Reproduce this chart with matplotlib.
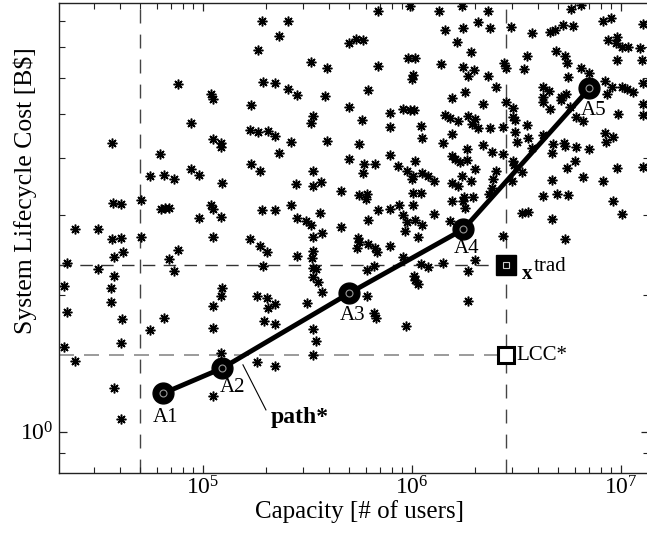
import matplotlib
matplotlib.use("Agg")
import matplotlib.pyplot as plt
import numpy as np
from matplotlib.ticker import NullFormatter, LogLocator

#* Design points (log10 of capacity, log10 of lifecycle cost)
log_capacity = [
    4.882, 4.941, 4.563, 4.796, 4.748, 4.815, 4.863, 4.941, 4.981, 4.571, 4.606, 4.703, 4.799, 4.818, 4.837,
    4.981, 4.388, 4.496, 4.563, 4.608, 4.703, 5.282, 5.407, 5.362, 5.262, 5.697, 5.518, 5.593, 5.287, 5.343,
    5.407, 5.448, 5.582, 5.038, 5.049, 5.231, 5.697, 5.528, 5.517, 5.225, 5.262, 5.312, 5.343, 5.420, 5.593,
    5.046, 5.085, 5.087, 5.362, 5.697, 5.231, 5.273, 5.528, 5.089, 5.446, 5.528, 5.563, 5.660, 5.038, 5.049,
    5.284, 5.343, 5.420, 5.451, 5.494, 5.515, 5.561, 5.085, 5.662, 5.049, 5.225, 5.528, 5.569, 5.839, 5.992,
    6.131, 6.238, 6.365, 6.158, 6.246, 6.317, 6.375, 5.732, 5.766, 6.217, 6.281, 5.839, 5.982, 6.014, 6.006,
    5.999, 6.137, 6.246, 6.297, 6.269, 6.365, 5.791, 6.254, 6.190, 6.341, 5.895, 5.958, 5.990, 6.010, 5.762,
    6.158, 6.182, 6.222, 6.269, 6.302, 6.286, 6.317, 6.375, 5.895, 6.043, 6.046, 6.193, 6.147, 5.746, 6.338,
    6.262, 6.381, 5.770, 5.822, 5.767, 5.895, 6.014, 5.934, 5.975, 6.006, 5.999, 6.046, 6.078, 6.107, 6.190,
    6.206, 6.230, 6.262, 6.302, 6.238, 6.190, 6.222, 6.282, 5.746, 5.783, 5.779, 6.006, 6.043, 6.249, 6.293,
    6.381, 6.369, 5.839, 5.895, 5.938, 6.006, 6.190, 6.246, 6.254, 5.791, 5.958, 5.975, 6.014, 6.046, 6.107,
    6.182, 5.967, 6.030, 5.743, 6.807, 6.759, 6.475, 6.576, 6.660, 6.684, 6.724, 6.769, 6.915, 6.954, 7.107,
    6.939, 6.980, 6.976, 7.003, 7.034, 7.091, 6.980, 7.099, 6.549, 6.689, 6.732, 6.743, 6.440, 6.450, 6.537,
    6.807, 6.846, 6.746, 6.402, 6.628, 6.657, 6.925, 6.956, 7.003, 7.027, 7.056, 7.107, 6.932, 6.628, 6.628,
    6.713, 6.737, 6.712, 6.756, 6.660, 6.450, 6.485, 6.485, 6.493, 7.107, 7.107, 6.987, 6.785, 6.820, 6.437,
    6.549, 6.493, 6.628, 6.557, 6.504, 6.573, 6.676, 6.727, 6.732, 6.670, 6.785, 6.848, 6.924, 6.928, 6.963,
    6.437, 6.485, 6.488, 6.402, 6.525, 6.780, 6.743, 6.980, 7.107, 6.389, 6.477, 6.670, 6.820, 6.915, 6.626,
    6.692, 6.745, 6.963, 7.003, 6.525, 6.557, 6.670, 6.437, 6.732, 4.576, 4.616, 4.882, 4.837, 4.863, 4.349,
    4.496, 4.574, 4.335, 4.560, 4.560, 4.349, 4.614, 4.812, 4.748, 4.608, 4.335, 4.388, 4.573, 4.608, 5.273,
    5.308, 5.289, 5.451, 5.528, 5.520, 5.528, 5.541, 5.525, 5.552, 5.569, 5.496, 5.089, 5.085, 5.049, 5.046,
    5.260, 5.308, 5.345, 5.312, 5.293, 5.343, 5.525, 5.541, 5.528, 5.085, 5.260, 5.345, 5.046, 5.746, 5.735,
    5.788, 5.823, 5.831, 5.895, 5.958, 5.820, 5.783, 6.043, 6.078, 6.150, 6.011, 6.014, 6.030, 6.267, 6.302,
    6.267, 5.783, 5.820, 5.826, 5.971,
]
log_cost = [
    0.764, 0.678, 0.634, 0.610, 0.562, 0.564, 0.555, 0.577, 0.564, 0.503, 0.500, 0.509, 0.490, 0.491, 0.491,
    0.470, 0.445, 0.446, 0.423, 0.426, 0.427, 0.903, 0.903, 0.870, 0.840, 0.854, 0.813, 0.800, 0.769, 0.767,
    0.753, 0.739, 0.738, 0.742, 0.731, 0.717, 0.714, 0.694, 0.678, 0.663, 0.659, 0.662, 0.651, 0.636, 0.638,
    0.644, 0.634, 0.625, 0.613, 0.600, 0.589, 0.573, 0.574, 0.547, 0.545, 0.540, 0.549, 0.528, 0.498, 0.490,
    0.487, 0.488, 0.498, 0.469, 0.464, 0.454, 0.481, 0.471, 0.449, 0.427, 0.423, 0.427, 0.436, 0.925, 0.936,
    0.925, 0.936, 0.925, 0.884, 0.887, 0.900, 0.887, 0.863, 0.861, 0.857, 0.835, 0.803, 0.821, 0.821, 0.784,
    0.775, 0.808, 0.802, 0.795, 0.782, 0.782, 0.750, 0.747, 0.734, 0.720, 0.701, 0.710, 0.706, 0.707, 0.686,
    0.696, 0.689, 0.684, 0.694, 0.687, 0.676, 0.667, 0.667, 0.670, 0.673, 0.645, 0.654, 0.635, 0.632, 0.630,
    0.622, 0.614, 0.588, 0.588, 0.569, 0.608, 0.594, 0.585, 0.573, 0.563, 0.555, 0.569, 0.563, 0.551, 0.607,
    0.600, 0.593, 0.597, 0.577, 0.563, 0.547, 0.539, 0.550, 0.520, 0.522, 0.512, 0.524, 0.525, 0.515, 0.515,
    0.536, 0.522, 0.487, 0.489, 0.498, 0.498, 0.506, 0.506, 0.491, 0.465, 0.477, 0.462, 0.465, 0.454, 0.478,
    0.464, 0.441, 0.429, 0.425, 0.938, 0.928, 0.889, 0.876, 0.878, 0.883, 0.894, 0.892, 0.903, 0.909, 0.896,
    0.862, 0.868, 0.854, 0.846, 0.845, 0.843, 0.818, 0.817, 0.826, 0.837, 0.826, 0.811, 0.810, 0.799, 0.797,
    0.800, 0.789, 0.779, 0.758, 0.757, 0.749, 0.771, 0.757, 0.757, 0.753, 0.747, 0.767, 0.742, 0.736, 0.725,
    0.735, 0.742, 0.728, 0.714, 0.709, 0.725, 0.711, 0.691, 0.685, 0.720, 0.696, 0.698, 0.692, 0.684, 0.670,
    0.674, 0.659, 0.652, 0.645, 0.637, 0.624, 0.632, 0.635, 0.628, 0.613, 0.626, 0.621, 0.657, 0.637, 0.648,
    0.610, 0.596, 0.586, 0.574, 0.571, 0.595, 0.580, 0.580, 0.581, 0.555, 0.550, 0.553, 0.559, 0.550, 0.518,
    0.522, 0.520, 0.506, 0.478, 0.480, 0.482, 0.467, 0.431, 0.423, 0.385, 0.394, 0.399, 0.380, 0.353, 0.370,
    0.358, 0.343, 0.321, 0.315, 0.286, 0.264, 0.248, 0.249, 0.224, 0.196, 0.187, 0.155, 0.097, 0.028, 0.408,
    0.394, 0.365, 0.387, 0.397, 0.381, 0.359, 0.358, 0.341, 0.330, 0.306, 0.284, 0.316, 0.299, 0.277, 0.229,
    0.299, 0.293, 0.280, 0.273, 0.243, 0.236, 0.226, 0.199, 0.169, 0.174, 0.154, 0.144, 0.079, 0.416, 0.403,
    0.412, 0.403, 0.394, 0.409, 0.385, 0.365, 0.355, 0.368, 0.363, 0.370, 0.343, 0.333, 0.324, 0.353, 0.377,
    0.288, 0.299, 0.260, 0.251, 0.233,
]

#* Staged deployment path A1..A5
path_labels = ["A1", "A2", "A3", "A4", "A5"]
path_capacity = [6.44e4, 1.23e5, 5.0e5, 1.76e6, 7.05e6]
path_cost = [1.214, 1.378, 2.015, 2.786, 5.68]
label_offsets = [(1.5, -17), (8, -14), (2.5, -16), (2, -14), (3, -16)]

#* Traditional design and reference lines
min_capacity = 5.0e4
trad_capacity = 2.8e6
trad_cost = 2.32
lcc_star = 1.474

plt.rcParams["font.family"] = ["Liberation Serif", "DejaVu Serif"]
plt.rcParams["mathtext.fontset"] = "custom"
plt.rcParams["mathtext.rm"] = "Liberation Serif"
plt.rcParams["mathtext.it"] = "Liberation Serif:italic"
plt.rcParams["mathtext.bf"] = "Liberation Serif:bold"

fig = plt.figure(figsize=(6.47, 5.40), dpi=100)
ax = fig.add_axes([0.0912, 0.124, 0.912, 0.8704])

capacity = 10 ** np.array(log_capacity)
cost = 10 ** np.array(log_cost)

ax.set_xscale("log")
ax.set_yscale("log")
ax.set_xlim(10 ** 4.311, 10 ** 7.134)
ax.set_ylim(10 ** -0.0908, 10 ** 0.9422)

#* scatter of all designs
ax.plot(capacity, cost, linestyle="none", marker=(8, 2, 0), markersize=7,
        markeredgewidth=1.1, color="black", zorder=2)

#* dashed guide lines
xlo = ax.get_xlim()[0]
ax.axvline(min_capacity, color="#444444", lw=1.0, dashes=(10, 8), zorder=1)
ax.axvline(trad_capacity, color="#444444", lw=1.0, dashes=(10, 8), zorder=1)
ax.plot([xlo, trad_capacity], [trad_cost, trad_cost], color="#333333", lw=1.0, dashes=(9, 6), zorder=1)
ax.plot([xlo, trad_capacity], [lcc_star, lcc_star], color="#8a8a8a", lw=1.2, dashes=(9, 6), zorder=1)

#* the path
ax.plot(path_capacity, path_cost, color="black", lw=3.5, zorder=3)
ax.plot(path_capacity, path_cost, linestyle="none", marker="o", markersize=15,
        markerfacecolor="black", markeredgecolor="black", zorder=4)
ax.plot(path_capacity, path_cost, linestyle="none", marker="o", markersize=5,
        markerfacecolor="none", markeredgecolor="#9a9a9a", markeredgewidth=0.8, zorder=5)
for lab, xv, yv, off in zip(path_labels, path_capacity, path_cost, label_offsets):
    ax.annotate(lab, (xv, yv), xytext=off, textcoords="offset points",
                ha="center", va="center", fontsize=15, zorder=6)

#* traditional design square and LCC* square
ax.plot([trad_capacity], [trad_cost], linestyle="none", marker="s", markersize=14,
        markerfacecolor="black", markeredgecolor="black", zorder=4)
ax.plot([trad_capacity], [trad_cost], linestyle="none", marker="s", markersize=5,
        markerfacecolor="none", markeredgecolor="#cccccc", markeredgewidth=0.8, zorder=5)
ax.plot([trad_capacity], [lcc_star], linestyle="none", marker="s", markersize=12,
        markerfacecolor="white", markeredgecolor="black", markeredgewidth=2.2, zorder=4)

ax.annotate("x", (trad_capacity, trad_cost), xytext=(12, -10), textcoords="offset points",
            ha="left", va="baseline", fontsize=15, fontweight="bold")
ax.annotate("trad", (trad_capacity, trad_cost), xytext=(20, -4), textcoords="offset points",
            ha="left", va="baseline", fontsize=15)
ax.annotate("LCC*", (trad_capacity, lcc_star), xytext=(8, 0), textcoords="offset points",
            ha="left", va="center", fontsize=15)

#* path* leader
ax.plot([10 ** 5.191, 10 ** 5.301], [10 ** 0.147, 10 ** 0.048], color="black", lw=0.8, zorder=3)
ax.text(10 ** 5.325, 10 ** 0.019, "path*", fontsize=17, fontweight="bold",
        ha="left", va="baseline")

#* axes styling (matlab-ish)
for side in ["top", "bottom", "left", "right"]:
    ax.spines[side].set_color("#222222")
    ax.spines[side].set_linewidth(1.0)
ax.xaxis.set_major_locator(LogLocator(base=10))
ax.xaxis.set_minor_locator(LogLocator(base=10, subs=np.arange(2, 10)))
ax.yaxis.set_minor_locator(LogLocator(base=10, subs=np.arange(2, 10)))
ax.xaxis.set_minor_formatter(NullFormatter())
ax.yaxis.set_minor_formatter(NullFormatter())
ax.tick_params(which="both", direction="in", top=True, right=True, color="#222222")
ax.tick_params(which="major", length=6, width=0.9, labelsize=17)
ax.tick_params(which="minor", length=4, width=0.8)
ax.tick_params(axis="x", which="major", pad=2)
ax.tick_params(axis="y", which="major", pad=4)

ax.set_xlabel("Capacity [# of users]", fontsize=18)
ax.set_ylabel("System Lifecycle Cost [B$]", fontsize=18.5)
ax.xaxis.set_label_coords(0.51, -0.058)
ax.yaxis.set_label_coords(-0.038, 0.6)

fig.savefig("out.png", dpi=100)
